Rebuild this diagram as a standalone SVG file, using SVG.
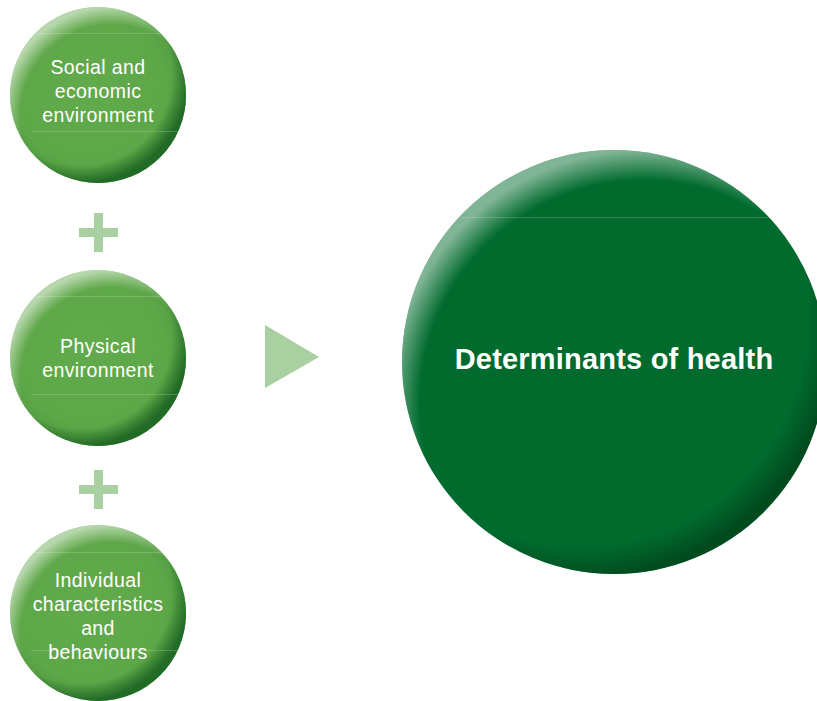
<svg xmlns="http://www.w3.org/2000/svg" width="817" height="701" viewBox="0 0 817 701">
  <defs>
    <radialGradient id="smallBase" cx="0.45" cy="0.45" r="0.55">
      <stop offset="0" stop-color="#62ab4c"/>
      <stop offset="0.8" stop-color="#5ea748"/>
      <stop offset="1" stop-color="#4f983f"/>
    </radialGradient>
    <radialGradient id="darkEdge" cx="0.4" cy="0.38" r="0.62">
      <stop offset="0.84" stop-color="#1f6a25" stop-opacity="0"/>
      <stop offset="1" stop-color="#1a6322" stop-opacity="0.85"/>
    </radialGradient>
    <radialGradient id="lightEdge" cx="0.58" cy="0.62" r="0.62">
      <stop offset="0.84" stop-color="#ffffff" stop-opacity="0"/>
      <stop offset="1" stop-color="#ffffff" stop-opacity="0.55"/>
    </radialGradient>
    <radialGradient id="bigDark" cx="0.42" cy="0.4" r="0.61">
      <stop offset="0.88" stop-color="#003d18" stop-opacity="0"/>
      <stop offset="1" stop-color="#003d18" stop-opacity="0.7"/>
    </radialGradient>
    <radialGradient id="bigLight" cx="0.57" cy="0.6" r="0.6">
      <stop offset="0.88" stop-color="#ffffff" stop-opacity="0"/>
      <stop offset="1" stop-color="#ffffff" stop-opacity="0.5"/>
    </radialGradient>
  </defs>
  <style>
    .small-text { font-family: "Liberation Sans", Arial, sans-serif; font-size: 19.5px; letter-spacing: 0.4px; fill: #ffffff; text-anchor: middle; }
    .big-text { font-family: "Liberation Sans", Arial, sans-serif; font-size: 29px; font-weight: bold; letter-spacing: 0.2px; fill: #ffffff; text-anchor: middle; }
    .sheen { stroke: #ffffff; stroke-opacity: 0.18; stroke-width: 1; }
    .sym { fill: #a9d0a1; }
  </style>
  <rect width="817" height="701" fill="#ffffff"/>

  <g id="node-social">
    <circle cx="98" cy="95" r="88" fill="url(#smallBase)"/>
    <circle cx="98" cy="95" r="88" fill="url(#darkEdge)"/>
    <circle cx="98" cy="95" r="88" fill="url(#lightEdge)"/>
    <line class="sheen" x1="33" y1="33.5" x2="185" y2="33.5"/>
    <line class="sheen" x1="33" y1="131.5" x2="185" y2="131.5"/>
    <text class="small-text" x="98" y="74">Social and</text>
    <text class="small-text" x="98" y="98">economic</text>
    <text class="small-text" x="98" y="122">environment</text>
  </g>

  <g id="node-physical">
    <circle cx="98" cy="358" r="88" fill="url(#smallBase)"/>
    <circle cx="98" cy="358" r="88" fill="url(#darkEdge)"/>
    <circle cx="98" cy="358" r="88" fill="url(#lightEdge)"/>
    <line class="sheen" x1="33" y1="296.5" x2="185" y2="296.5"/>
    <line class="sheen" x1="33" y1="394.5" x2="185" y2="394.5"/>
    <text class="small-text" x="98" y="353">Physical</text>
    <text class="small-text" x="98" y="377">environment</text>
  </g>

  <g id="node-individual">
    <circle cx="98" cy="613" r="88" fill="url(#smallBase)"/>
    <circle cx="98" cy="613" r="88" fill="url(#darkEdge)"/>
    <circle cx="98" cy="613" r="88" fill="url(#lightEdge)"/>
    <line class="sheen" x1="33" y1="552.5" x2="185" y2="552.5"/>
    <line class="sheen" x1="33" y1="650.5" x2="185" y2="650.5"/>
    <text class="small-text" x="98" y="587">Individual</text>
    <text class="small-text" x="98" y="611">characteristics</text>
    <text class="small-text" x="98" y="635">and</text>
    <text class="small-text" x="98" y="659">behaviours</text>
  </g>

  <g id="node-determinants">
    <circle cx="614" cy="362" r="212" fill="#006b2d"/>
    <circle cx="614" cy="362" r="212" fill="url(#bigDark)"/>
    <circle cx="614" cy="362" r="212" fill="url(#bigLight)"/>
    <line class="sheen" x1="462" y1="217.5" x2="817" y2="217.5"/>
    <text class="big-text" x="614" y="369">Determinants of health</text>
  </g>

  <g id="connectors">
    <path class="sym" d="M94 213 h9 v15 h15 v9 h-15 v15 h-9 v-15 h-15 v-9 h15 z"/>
    <path class="sym" d="M94 470 h9 v15 h15 v9 h-15 v15 h-9 v-15 h-15 v-9 h15 z"/>
    <polygon class="sym" points="265,325 265,388 319,357"/>
  </g>
</svg>
